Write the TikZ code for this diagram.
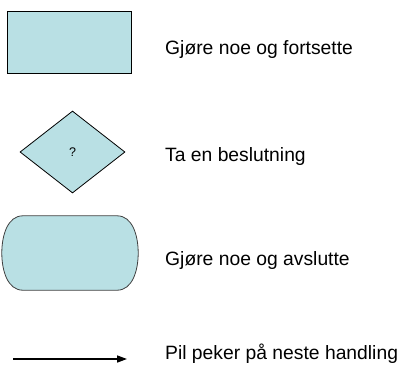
\documentclass[tikz,border=0pt]{standalone}
\usepackage{fontspec}
\setmainfont{Liberation Sans}
\usepackage{tikz}
\usetikzlibrary{shapes,arrows.meta}

\definecolor{legendfill}{RGB}{185,224,228}

\begin{document}
\begin{tikzpicture}[x=1pt,y=-1pt]
		\useasboundingbox (0,0) rectangle (401,365);
		\clip (0,0) rectangle (401,365);
		
		\tikzstyle{legendbox}=[draw,fill=legendfill,line width=0.8pt,inner sep=0pt]
		\tikzstyle{legendtext}=[anchor=base west,inner sep=0pt,font=\fontsize{19.3}{23}\selectfont]
		
		%% Draw the shapes
		\node [legendbox,rectangle,minimum width=124.5pt,minimum height=62pt] (process) at (69.5,42) {};
		\node [legendbox,diamond,minimum width=105pt,minimum height=82pt,font=\fontsize{12.5}{14}\selectfont] (decision) at (72.5,152) {?};
		
		\node [inner sep=0pt,minimum width=136pt,minimum height=74pt] (terminal) at (70,253) {};
		\draw [fill=legendfill,draw=black!75,line width=0.8pt]
		  ([xshift=21pt]terminal.north west) -- ([xshift=-21pt]terminal.north east)
		  .. controls ([xshift=-6pt]terminal.north east) and ([yshift=18pt]terminal.east) .. (terminal.east)
		  .. controls ([yshift=-18pt]terminal.east) and ([xshift=-6pt]terminal.south east) .. ([xshift=-21pt]terminal.south east)
		  -- ([xshift=21pt]terminal.south west)
		  .. controls ([xshift=6pt]terminal.south west) and ([yshift=-18pt]terminal.west) .. (terminal.west)
		  .. controls ([yshift=18pt]terminal.west) and ([xshift=6pt]terminal.north west) .. cycle;
		
		\coordinate (arrowstart) at (13,359);
		\coordinate (arrowend) at (127,359);
		\draw [line width=1.5pt,-{Stealth[length=10pt,width=7pt,inset=0pt]}] (arrowstart) -- (arrowend);
		
		%% Draw the texts
		\node [legendtext] (processtext) at (165,54) {Gjøre noe og fortsette};
		\node [legendtext] (decisiontext) at (165,161) {Ta en beslutning};
		\node [legendtext] (terminaltext) at (165,265) {Gjøre noe og avslutte};
		\node [legendtext] (arrowtext) at (165,359) {Pil peker på neste handling};
		
		\end{tikzpicture}
\end{document}
